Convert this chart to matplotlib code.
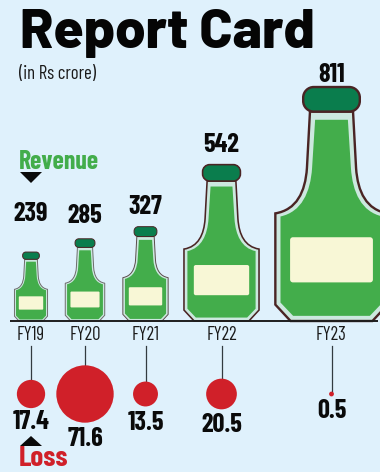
import matplotlib
matplotlib.use("Agg")
import logging
import matplotlib.pyplot as plt
from matplotlib.path import Path
from matplotlib.patches import PathPatch, Circle, Polygon
logging.getLogger("matplotlib.font_manager").setLevel(logging.ERROR)

years = ["FY19", "FY20", "FY21", "FY22", "FY23"]
revenue = [239, 285, 327, 542, 811]
loss = [17.4, 71.6, 13.5, 20.5, 0.5]

# layout (pixels)
W, H = 380, 472
BASE = 321
centers = [31, 85, 145.5, 221.5, 331.5]
rev_label_y = [214, 216, 207, 145, 75]
loss_label_y = [422, 439, 423, 425, 411]
PX_PER_REV = 0.2885
R_PER_SQRT = 3.39
CIRCLE_Y = 394
BG = "#dff1fc"; EDGE = "#4a2424"; PALE = "#cce8df"; GREEN = "#43ad4b"
CAP = "#0a7d4d"; LABEL = "#f8f7d6"; RED = "#d02029"
COND = ["Barlow Condensed", "Roboto"]
TITLE = ["Barlow", "Roboto"]

fig = plt.figure(figsize=(W/100, H/100), dpi=100, facecolor=BG)
ax = fig.add_axes([0, 0, 1, 1])
ax.set_xlim(0, W); ax.set_ylim(H, 0); ax.axis("off")

M, L, C, Z = Path.MOVETO, Path.LINETO, Path.CURVE4, Path.CLOSEPOLY

def outline(cx, h, d=0.0, top=0.895):
    """Symmetric bottle silhouette; u, v are fractions of bottle height, d an inset."""
    P = lambda s, u, v: (cx + s*u*h, BASE - v*h)
    nt, nb = 0.092-d, 0.105-d
    sh, bd = 0.46-d*0.6, 0.24-d
    ch, cb = 0.07+d*0.4, 0.175-d*0.5
    c1, c2 = (nb+0.007, 0.55), (0.15-d, 0.475-d*0.4)
    verts = [P(-1, nt, top), P(1, nt, top), P(1, nb, 0.654),
             P(1, *c1), P(1, *c2), P(1, bd, sh),
             P(1, bd, ch), P(1, cb, d),
             P(-1, cb, d), P(-1, bd, ch), P(-1, bd, sh),
             P(-1, *c2), P(-1, *c1), P(-1, nb, 0.654),
             P(-1, nt, top)]
    codes = [M, L, L, C, C, C, L, L, L, L, L, C, C, C, L]
    return Path(verts + [verts[0]], codes + [Z])

def rrect(x0, y0, x1, y1, r):
    k = r*0.45
    v = [(x0+r, y0), (x1-r, y0), (x1-k, y0), (x1, y0+k), (x1, y0+r),
         (x1, y1-r), (x1, y1-k), (x1-k, y1), (x1-r, y1),
         (x0+r, y1), (x0+k, y1), (x0, y1-k), (x0, y1-r),
         (x0, y0+r), (x0, y0+k), (x0+k, y0), (x0+r, y0), (x0+r, y0)]
    c = [M, L, C, C, C, L, C, C, C, L, C, C, C, L, C, C, C, Z]
    return Path(v, c)

for cx, val in zip(centers, revenue):
    h = val*PX_PER_REV
    lw = max(0.8, h*0.0085)*0.72*1.2
    edge = EDGE if h > 120 else ("#5b4a4a" if h > 90 else "#6d6a6a")
    ax.add_patch(PathPatch(outline(cx, h), fc=PALE, ec=edge, lw=lw, zorder=2))
    ax.add_patch(PathPatch(outline(cx, h, d=0.022, top=0.86), fc=GREEN, ec="none", zorder=3))
    ax.add_patch(PathPatch(rrect(cx-0.177*h, BASE-0.358*h, cx+0.177*h, BASE-0.165*h, 0.012*h),
                           fc=LABEL, ec="none", zorder=4))
    ax.add_patch(PathPatch(rrect(cx-0.121*h, BASE-h, cx+0.121*h, BASE-0.895*h, 0.045*h),
                           fc=CAP, ec=EDGE, lw=lw, zorder=5))

ax.plot([10, 378], [BASE, BASE], color="#1e1e1e", lw=1.4, zorder=6, solid_capstyle="butt")

for cx, y, ly, val, rev, ry in zip(centers, years, loss_label_y, loss, revenue, rev_label_y):
    r = R_PER_SQRT*val**0.5
    ax.plot([cx, cx], [346, CIRCLE_Y-r+1], color="#333b40", lw=0.9, zorder=2)
    ax.add_patch(Circle((cx, CIRCLE_Y), r, fc=RED, ec="none", zorder=3))
    ax.text(cx, 335, y, family=COND, fontsize=13.5, ha="center", va="center", color="#1a1a1a")
    ax.text(cx, ry, str(rev), family=COND, fontweight="bold", fontsize=19, ha="center", va="center", color="#0a0a0a")
    ax.text(cx, ly, f"{val}", family=COND, fontweight="bold", fontsize=19, ha="center", va="center", color="#0a0a0a")

ax.text(20, 33, "Report Card", family=TITLE, fontweight=800, fontsize=39.5, ha="left", va="center", color="#050505")
ax.text(19, 74, "(in Rs crore)", family=COND, fontsize=13.5, ha="left", va="center", color="#1a1a1a")
ax.text(19, 162, "Revenue", family=COND, fontweight="bold", fontsize=18.5, ha="left", va="center", color=GREEN)
ax.text(19, 459, "Loss", family=COND, fontweight="bold", fontsize=21, ha="left", va="center", color=RED)
ax.add_patch(Polygon([(20, 172), (42, 172), (31, 183)], fc="#0a0a0a", ec="none"))
ax.add_patch(Polygon([(20, 446), (42, 446), (31, 436)], fc="#0a0a0a", ec="none"))

fig.savefig("out.png", dpi=100, facecolor=BG)
